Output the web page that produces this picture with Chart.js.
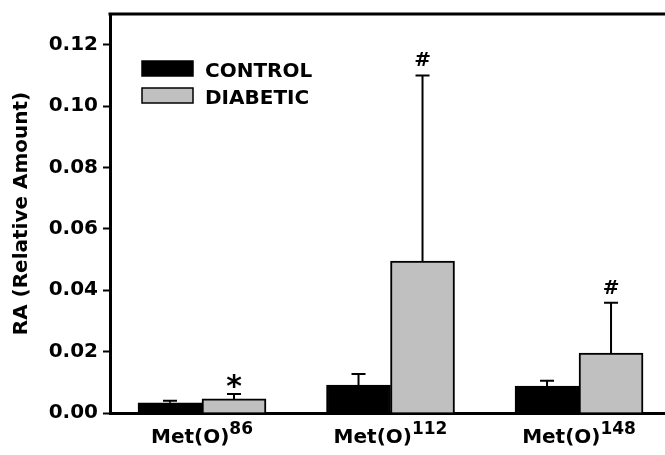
<!DOCTYPE html>
<html lang="en">
<head>
  <meta charset="UTF-8">
  <title>Met(O) relative amount</title>
  <script src="https://cdn.jsdelivr.net/npm/chart.js@4.4.0/dist/chart.umd.min.js"></script>
  <style>
    html, body { margin: 0; padding: 0; background: #fff; }
    #wrap { width: 665px; height: 455px; position: relative; }
  </style>
</head>
<body>
  <div id="wrap"><canvas id="chart"></canvas></div>
  <script>
    // values
    const labelPrefix = 'Met(O)';
    const residues = ['86', '112', '148'];
    const controlMeans = [0.0033, 0.0091, 0.0088];
    const controlSD = [0.0007, 0.0036, 0.0017];
    const diabeticMeans = [0.0046, 0.0495, 0.0195];
    const diabeticSD = [0.0016, 0.0605, 0.0164];
    const diabeticMarks = ['*', '#', '#'];
    const yTicks = [0, 0.02, 0.04, 0.06, 0.08, 0.10, 0.12];

    const FONT = '"DejaVu Sans", sans-serif';

    // error bars + significance marks
    const errorBars = {
      id: 'errorBars',
      afterDatasetsDraw(chart) {
        const ctx = chart.ctx;
        const y = chart.scales.y;
        chart.data.datasets.forEach((ds, i) => {
          const meta = chart.getDatasetMeta(i);
          meta.data.forEach((bar, j) => {
            const top = y.getPixelForValue(ds.means[j] + ds.sd[j]);
            const base = y.getPixelForValue(ds.means[j]);
            ctx.save();
            ctx.strokeStyle = '#000';
            ctx.lineWidth = 2;
            ctx.beginPath();
            ctx.moveTo(bar.x, base);
            ctx.lineTo(bar.x, top);
            ctx.moveTo(bar.x - 7, top);
            ctx.lineTo(bar.x + 7, top);
            ctx.stroke();
            const mark = ds.marks ? ds.marks[j] : '';
            if (mark) {
              ctx.fillStyle = '#000';
              ctx.textAlign = 'center';
              ctx.textBaseline = 'alphabetic';
              if (mark === '*') {
                ctx.font = 'bold 30px ' + FONT;
                ctx.fillText(mark, bar.x, top + 2);
              } else {
                ctx.font = 'bold 20px ' + FONT;
                ctx.fillText(mark, bar.x, top - 9);
              }
            }
            ctx.restore();
          });
        });
      }
    };

    // frame line on top, category labels with superscripts, legend
    const decorations = {
      id: 'decorations',
      afterDraw(chart) {
        const ctx = chart.ctx;
        const area = chart.chartArea;
        const x = chart.scales.x;
        ctx.save();
        ctx.strokeStyle = '#000';
        ctx.lineWidth = 3;
        ctx.beginPath();
        ctx.moveTo(area.left - 1.5, area.top);
        ctx.lineTo(area.right, area.top);
        ctx.stroke();

        // x labels
        ctx.fillStyle = '#000';
        ctx.textBaseline = 'alphabetic';
        residues.forEach((r, i) => {
          const cx = x.getPixelForValue(i);
          ctx.font = 'bold 20px ' + FONT;
          const w1 = ctx.measureText(labelPrefix).width;
          ctx.font = 'bold 17px ' + FONT;
          const w2 = ctx.measureText(r).width;
          const start = cx - (w1 + w2) / 2;
          ctx.textAlign = 'left';
          ctx.font = 'bold 20px ' + FONT;
          ctx.fillText(labelPrefix, start, area.bottom + 30);
          ctx.font = 'bold 17px ' + FONT;
          ctx.fillText(r, start + w1, area.bottom + 21);
        });

        // legend
        chart.data.datasets.forEach((ds, i) => {
          const ly = 61 + i * 27;
          ctx.fillStyle = ds.backgroundColor;
          ctx.fillRect(142, ly, 51, 15);
          ctx.lineWidth = 1.5;
          ctx.strokeStyle = '#000';
          ctx.strokeRect(142, ly, 51, 15);
          ctx.fillStyle = '#000';
          ctx.font = 'bold 20px ' + FONT;
          ctx.textAlign = 'left';
          ctx.fillText(ds.label, 205, ly + 15.5);
        });
        ctx.restore();
      }
    };

    new Chart(document.getElementById('chart'), {
      type: 'bar',
      data: {
        datasets: [
          { label: 'CONTROL', means: controlMeans, sd: controlSD,
            data: controlMeans.map((v, i) => ({ x: i, y: v })),
            backgroundColor: '#000000', borderColor: '#000', borderWidth: 2 },
          { label: 'DIABETIC', means: diabeticMeans, sd: diabeticSD, marks: diabeticMarks,
            data: diabeticMeans.map((v, i) => ({ x: i, y: v })),
            backgroundColor: '#c0c0c0', borderColor: '#000', borderWidth: 2 }
        ]
      },
      options: {
        responsive: true,
        maintainAspectRatio: false,
        animation: false,
        layout: { padding: { top: 14, right: 0, bottom: 0, left: 0 } },
        datasets: { bar: { barThickness: 64 } },
        plugins: { legend: { display: false }, tooltip: { enabled: false } },
        scales: {
          x: {
            type: 'linear',
            min: -0.488,
            max: 2.456,
            offset: false,
            ticks: { display: false },
            grid: { display: false },
            border: { color: '#000', width: 3 },
            afterFit(scale) { scale.height = 42; }
          },
          y: {
            min: 0,
            max: 0.13,
            afterBuildTicks(scale) { scale.ticks = yTicks.map(v => ({ value: v })); },
            ticks: {
              color: '#000',
              font: { family: FONT, size: 20, weight: 'bold' },
              padding: 5,
              callback: v => v.toFixed(2)
            },
            grid: { drawOnChartArea: false, color: '#000', tickLength: 7, tickWidth: 2 },
            border: { color: '#000', width: 3 },
            title: {
              display: true,
              text: 'RA (Relative Amount)',
              color: '#000',
              font: { family: FONT, size: 20, weight: 'bold' },
              padding: { top: 10, bottom: 0 }
            },
            afterFit(scale) {
              scale.width = 110;
              scale.paddingTop = 0;
              scale.paddingBottom = 0;
            }
          }
        }
      },
      plugins: [errorBars, decorations]
    });
  </script>
</body>
</html>
